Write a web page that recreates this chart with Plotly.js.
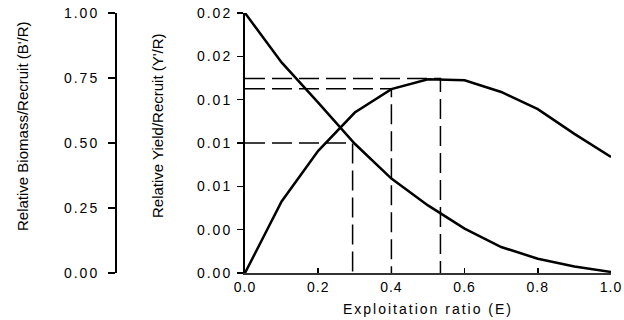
<!DOCTYPE html>
<html>
<head>
<meta charset="utf-8">
<script src="https://cdn.plot.ly/plotly-3.0.1.min.js"></script>
<style>
html, body { margin: 0; padding: 0; background: #fff; }
#chart { width: 624px; height: 320px; }
.ytick text, .y2tick text, .xtitle { letter-spacing: 2px; }
.xtick text { letter-spacing: 1px; }
</style>
</head>
<body>
<div id="chart"></div>
<script>
// Exploitation ratio (E)
const exploitation = [0, 0.1, 0.2, 0.3, 0.4, 0.5, 0.6, 0.7, 0.8, 0.9, 1.0];
// Relative biomass per recruit (B'/R)
const biomassPerRecruit = [1.0, 0.81, 0.655, 0.497, 0.363, 0.26, 0.171, 0.10, 0.055, 0.025, 0.004];
// Relative yield per recruit (Y'/R)
const yieldPerRecruit = [0, 0.00578, 0.00987, 0.01296, 0.01485, 0.01565, 0.01556, 0.01462, 0.01323, 0.01124, 0.00937];

// Reference points (E50, E10, Emax)
const e50 = 0.294, b50 = 0.5;
const e10 = 0.40, y10 = 0.01489;
const eMax = 0.534, yMax = 0.01571;

// Tick labels
const xTickVals = [0, 0.2, 0.4, 0.6, 0.8, 1.0];
const xTickText = ['0.0', '0.2', '0.4', '0.6', '0.8', '1.0'];
const yieldTickVals = [0, 0.0035, 0.007, 0.0105, 0.014, 0.0175, 0.021];
const yieldTickText = ['0.00', '0.00', '0.01', '0.01', '0.01', '0.02', '0.02'];
const biomassTickVals = [0, 0.25, 0.5, 0.75, 1.0];
const biomassTickText = ['0.00', '0.25', '0.50', '0.75', '1.00'];

const font = { family: '"Liberation Sans", Arial, sans-serif', size: 14, color: '#000' };
const titleFont = { family: '"Liberation Sans", Arial, sans-serif', size: 15, color: '#000' };
const dashStyle = { color: '#000', width: 1.5, dash: '20px,7px' };

const traces = [
  { x: exploitation, y: biomassPerRecruit, yaxis: 'y2', mode: 'lines',
    line: { color: '#000', width: 2.5 }, name: "B'/R" },
  { x: exploitation, y: yieldPerRecruit, yaxis: 'y', mode: 'lines',
    line: { color: '#000', width: 2.5 }, name: "Y'/R" },
  { x: [0, e50, e50], y: [b50, b50, 0], yaxis: 'y2', mode: 'lines', line: dashStyle, name: 'E50' },
  { x: [0, e10, e10], y: [y10, y10, 0], yaxis: 'y', mode: 'lines', line: dashStyle, name: 'E10' },
  { x: [0, eMax, eMax], y: [yMax, yMax, 0], yaxis: 'y', mode: 'lines', line: dashStyle, name: 'Emax' }
];

const ml = 40, mr = 13, plotW = 624 - ml - mr;
const plotLeftPx = 245, bioAxisPx = 115;

const layout = {
  width: 624, height: 320,
  margin: { l: ml, r: mr, t: 13, b: 47 },
  paper_bgcolor: '#fff', plot_bgcolor: '#fff',
  showlegend: false,
  font: font,
  xaxis: {
    domain: [(plotLeftPx - ml) / plotW, 1],
    range: [0, 1],
    tickvals: xTickVals, ticktext: xTickText,
    ticks: 'inside', ticklen: 5, tickcolor: '#000', tickwidth: 1.5,
    ticklabeloverflow: 'allow',
    showline: true, linecolor: '#333', linewidth: 2,
    showgrid: false, zeroline: false,
    tickfont: font,
    title: { text: 'Exploitation ratio (E)', font: font, standoff: 10 }
  },
  yaxis: {
    anchor: 'x',
    range: [0, 0.021],
    tickvals: yieldTickVals, ticktext: yieldTickText,
    ticks: 'outside', ticklen: 6, tickcolor: '#000', tickwidth: 1.5,
    ticklabelstandoff: 2,
    showline: true, linecolor: '#000', linewidth: 2,
    showgrid: false, zeroline: false,
    tickfont: font
  },
  yaxis2: {
    overlaying: 'y', side: 'left', anchor: 'free',
    position: (bioAxisPx - ml) / plotW,
    range: [0, 1],
    tickvals: biomassTickVals, ticktext: biomassTickText,
    ticks: 'outside', ticklen: 7, tickcolor: '#000', tickwidth: 1.5,
    ticklabelstandoff: 6,
    showline: true, linecolor: '#000', linewidth: 1.5,
    showgrid: false, zeroline: false,
    tickfont: font
  },
  annotations: [
    { text: "Relative Biomass/Recruit (B'/R)", xref: 'paper', yref: 'paper',
      x: (22 - ml) / plotW, y: (273 - 126) / 260, textangle: -90,
      xanchor: 'center', yanchor: 'middle', showarrow: false, font: titleFont },
    { text: "Relative Yield/Recruit (Y'/R)", xref: 'paper', yref: 'paper',
      x: (157 - ml) / plotW, y: (273 - 126) / 260, textangle: -90,
      xanchor: 'center', yanchor: 'middle', showarrow: false, font: titleFont }
  ]
};

Plotly.newPlot('chart', traces, layout, { displayModeBar: false, staticPlot: true });
</script>
</body>
</html>
